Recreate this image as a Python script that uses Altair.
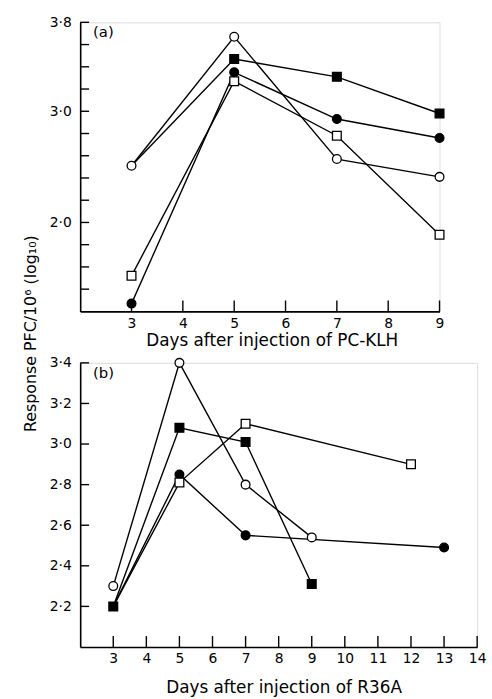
import altair as alt
import pandas as pd

# ---------------- data ----------------
series_names = ["filled square", "filled circle", "open square", "open circle"]
series_shapes = ["square", "circle", "square", "circle"]
series_fills = ["black", "black", "white", "white"]

# Panel (a): days after injection of PC-KLH
a_days = {
    "open circle": [3, 5, 7, 9],
    "filled square": [3, 5, 7, 9],
    "filled circle": [3, 5, 7, 9],
    "open square": [3, 5, 7, 9],
}
a_values = {
    "open circle": [2.51, 3.67, 2.57, 2.41],
    "filled square": [2.51, 3.47, 3.31, 2.98],
    "filled circle": [1.27, 3.35, 2.93, 2.76],
    "open square": [1.52, 3.27, 2.78, 1.89],
}
a_hidden_markers = [("filled square", 3)]

# Panel (b): days after injection of R36A
b_days = {
    "open circle": [3, 5, 7, 9],
    "filled square": [3, 5, 7, 9],
    "filled circle": [3, 5, 7, 13],
    "open square": [3, 5, 7, 12],
}
b_values = {
    "open circle": [2.30, 3.40, 2.80, 2.54],
    "filled square": [2.20, 3.08, 3.01, 2.31],
    "filled circle": [2.20, 2.85, 2.55, 2.49],
    "open square": [2.20, 2.81, 3.10, 2.90],
}
b_hidden_markers = [("filled circle", 3), ("open square", 3)]

a_x_ticks = [3, 4, 5, 6, 7, 8, 9]
a_y_ticks = [1.4, 1.6, 1.8, 2.0, 2.2, 2.4, 2.6, 2.8, 3.0, 3.2, 3.4, 3.6, 3.8]
a_y_labels = [2.0, 3.0, 3.8]
b_x_ticks = [3, 4, 5, 6, 7, 8, 9, 10, 11, 12, 13, 14]
b_y_ticks = [2.2, 2.4, 2.6, 2.8, 3.0, 3.2, 3.4]
b_y_labels = [2.2, 2.4, 2.6, 2.8, 3.0, 3.2, 3.4]

FONT = "DejaVu Sans"


def make_df(days, values, hidden):
    rows = []
    for s in series_names:
        for d, v in zip(days[s], values[s]):
            rows.append({"day": d, "value": v, "series": s,
                         "marker": (s, d) not in hidden,
                         "order": series_names.index(s)})
    return pd.DataFrame(rows)


def panel(df, xdom, ydom, xticks, yticks, ylabels, xtitle, tag, w, h, title_pad, title_shift):
    xs = alt.Scale(domain=xdom, nice=False, zero=False)
    ys = alt.Scale(domain=ydom, nice=False, zero=False)
    label_expr = "replace(format(datum.value, '.1f'), '.', '·')"
    x_axis = alt.Axis(
        values=xticks, ticks=False, grid=False, title=xtitle, format="d",
        labelOverlap=False, labelFlush=False,
        labelFont=FONT, labelFontSize=14, titleFont=FONT, titleFontSize=17,
        titleFontWeight="normal", labelPadding=5, titlePadding=title_pad,
        titleX=w / 2 + title_shift, titleAnchor="middle",
        domainColor="black", domainWidth=1.6, labelColor="black", titleColor="black")
    y_axis = alt.Axis(
        values=ylabels, ticks=False, grid=False, title=None, labelExpr=label_expr,
        labelOverlap=False, labelFlush=False,
        labelFont=FONT, labelFontSize=14, labelPadding=9,
        domainColor="black", domainWidth=1.6, labelColor="black")

    lines = alt.Chart(df).mark_line(color="black", strokeWidth=1.4).encode(
        x=alt.X("day:Q", scale=xs, axis=x_axis),
        y=alt.Y("value:Q", scale=ys, axis=y_axis),
        detail="series:N")
    pts = alt.Chart(df).transform_filter("datum.marker").mark_point(
        size=78, stroke="black", strokeWidth=1.3, opacity=1, filled=False).encode(
        x=alt.X("day:Q", scale=xs, axis=x_axis),
        y=alt.Y("value:Q", scale=ys, axis=y_axis),
        shape=alt.Shape("series:N", scale=alt.Scale(domain=series_names, range=series_shapes), legend=None),
        fill=alt.Fill("series:N", scale=alt.Scale(domain=series_names, range=series_fills), legend=None),
        order=alt.Order("order:Q"),
    )
    xt = alt.Chart(pd.DataFrame({"day": xticks})).mark_rule(color="black", strokeWidth=1.4).encode(
        x=alt.X("day:Q", scale=xs, axis=x_axis), y=alt.value(h), y2=alt.value(h - 11))
    yt = alt.Chart(pd.DataFrame({"value": yticks})).mark_rule(color="black", strokeWidth=1.4).encode(
        y=alt.Y("value:Q", scale=ys, axis=y_axis), x=alt.value(0), x2=alt.value(9))
    lab = alt.Chart(pd.DataFrame({"t": [tag]})).mark_text(
        font=FONT, fontSize=15, align="left", baseline="middle", color="black").encode(
        text="t:N", x=alt.value(13), y=alt.value(10))
    return alt.layer(lines, xt, yt, pts, lab).properties(width=w, height=h)


dfa = make_df(a_days, a_values, a_hidden_markers)
dfb = make_df(b_days, b_values, b_hidden_markers)

top = panel(dfa, [2, 9], [1.2, 3.8], a_x_ticks, a_y_ticks, a_y_labels,
            "Days after injection of PC-KLH", "(a)", 363, 292, 2, 12)
bottom = panel(dfb, [2, 14], [2.0, 3.4], b_x_ticks, b_y_ticks, b_y_labels,
               "Days after injection of R36A", "(b)", 401, 287, 14, 5)

chart = alt.vconcat(top, bottom, spacing=52, bounds="flush").properties(
    title=alt.TitleParams("Response PFC/10⁶ (log₁₀)", orient="left", anchor="middle",
                          font=FONT, fontSize=16, fontWeight="normal", color="black",
                          offset=10, dx=22),
    padding={"left": 23, "top": 11, "right": 5, "bottom": 0},
).configure_view(stroke=None).configure_axis(labelOverlap=False).configure(background="white")

chart.save("out.html", embed_options={"renderer": "svg", "actions": False})
